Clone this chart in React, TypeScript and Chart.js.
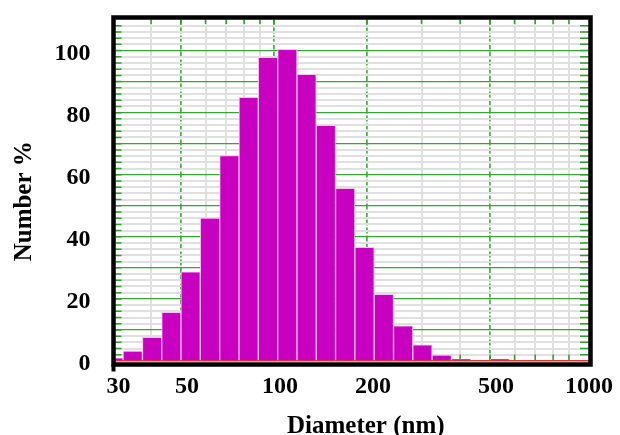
import { useEffect, useRef } from 'react';
import { Chart, registerables } from 'chart.js';

Chart.register(...registerables);

// ---- data ----
const binDiameters = [30.2, 34.9, 40.3, 46.5, 53.7, 62.0, 71.7, 82.7, 95.6, 110.4, 127.4, 147.1, 169.9, 196.2, 226.6, 261.7, 302.2, 348.9, 402.9, 465.2, 537.3];
const numberPercent = [1.0, 3.2, 7.6, 15.7, 28.7, 46.0, 66.2, 84.9, 97.8, 100.4, 92.3, 75.9, 55.6, 36.6, 21.5, 11.3, 5.2, 1.9, 0.6, 0, 0.6];
const xTickValues = [30, 40, 50, 60, 70, 80, 90, 100, 200, 300, 400, 500, 600, 700, 800, 900, 1000];
const xLabelValues = [30, 50, 100, 200, 500, 1000];
const xMajorGrid = [50, 100, 200, 500];
const yLabelValues = [0, 20, 40, 60, 80, 100];
const X_MIN = 30;
const X_MAX = 1045;
const Y_MIN = 0;
const Y_MAX = 110;
const Y_STEP = 2;
const Y_MAJOR = 10;
const X_TITLE = 'Diameter (nm)';
const Y_TITLE = 'Number %';

const FONT_FAMILY = '"Liberation Serif", "Times New Roman", serif';
const BAR_COLOR = '#c800c0';
const BAR_EDGE = '#f2c4ef';
const GREEN = '#37a437';
const GREEN_DASH = '#4db34d';
const GRAY = '#e0e0e0';
const RED = '#d23a3a';

const innerTicksPlugin = {
  id: 'innerTicks',
  beforeDatasetsDraw(chart: any) {
    const { ctx, chartArea: a, scales } = chart;
    const x = scales.x;
    const y = scales.y;
    ctx.save();
    ctx.strokeStyle = '#2e9e2e';
    ctx.lineWidth = 1.5;
    ctx.beginPath();
    y.ticks.forEach((t: any) => {
      if (t.value <= Y_MIN || t.value >= Y_MAX) return;
      const py = y.getPixelForValue(t.value);
      ctx.moveTo(a.left, py);
      ctx.lineTo(a.left + 9, py);
      ctx.moveTo(a.right - 9, py);
      ctx.lineTo(a.right, py);
    });
    x.ticks.forEach((t: any) => {
      if (t.value <= X_MIN || t.value >= 1000) return;
      const px = x.getPixelForValue(t.value);
      ctx.moveTo(px, a.top);
      ctx.lineTo(px, a.top + 4.5);
      ctx.moveTo(px, a.bottom - 6.5);
      ctx.lineTo(px, a.bottom - 1);
    });
    ctx.stroke();
    ctx.restore();
  },
};

const framePlugin = {
  id: 'frameAndTitles',
  afterDraw(chart: any) {
    const { ctx, chartArea: a } = chart;
    ctx.save();
    ctx.strokeStyle = '#000';
    ctx.lineWidth = 4.5;
    const l = a.left + 1;
    const t = a.top - 2;
    const r = a.right + 1.5;
    const b = a.bottom + 3.5;
    ctx.strokeRect(l, t, r - l, b - t);
    ctx.beginPath();
    ctx.lineWidth = 4;
    ctx.moveTo(l, b);
    ctx.lineTo(l, b + 7);
    ctx.stroke();

    ctx.fillStyle = '#000';
    ctx.font = `bold 25px ${FONT_FAMILY}`;
    ctx.textAlign = 'center';
    ctx.textBaseline = 'alphabetic';
    ctx.fillText(X_TITLE, (a.left + a.right) / 2 + 15, 433);
    ctx.translate(31, (a.top + a.bottom) / 2 + 11);
    ctx.rotate(-Math.PI / 2);
    ctx.fillText(Y_TITLE, 0, 0);
    ctx.restore();
  },
};

export default function App() {
  const canvasRef = useRef<HTMLCanvasElement | null>(null);

  useEffect(() => {
    if (!canvasRef.current) return;
    const tickFont = { family: FONT_FAMILY, size: 24, weight: 'bold' as const };
    const chart = new Chart(canvasRef.current, {
      type: 'bar',
      data: {
        datasets: [
          {
            data: binDiameters.map((d, i) => ({ x: d, y: numberPercent[i] })),
            backgroundColor: BAR_COLOR,
            borderColor: BAR_EDGE,
            borderWidth: 1,
            borderSkipped: 'start',
            barThickness: 'flex',
            categoryPercentage: 1,
            barPercentage: 1,
          } as any,
        ],
      },
      options: {
        animation: false,
        responsive: true,
        maintainAspectRatio: false,
        layout: { padding: { top: 19.5, right: 31, left: 0, bottom: 0 } },
        plugins: { legend: { display: false }, tooltip: { enabled: false } },
        scales: {
          x: {
            type: 'logarithmic',
            min: X_MIN,
            max: X_MAX,
            offset: false,
            afterBuildTicks: (s: any) => {
              s.ticks = xTickValues.map((v) => ({ value: v }));
            },
            afterFit: (s: any) => {
              s.height = 74;
              s.paddingLeft = 0;
              s.paddingRight = 0;
            },
            ticks: {
              autoSkip: false,
              maxRotation: 0,
              minRotation: 0,
              padding: 11,
              labelOffset: 6,
              color: '#000',
              font: tickFont,
              callback: (v: any) => (xLabelValues.includes(Number(v)) ? String(v) : ''),
            },
            grid: {
              offset: false,
              drawTicks: false,
              color: (c: any) => {
                const v = c.tick?.value;
                if (v === X_MIN || v === 1000) return 'rgba(0,0,0,0)';
                return xMajorGrid.includes(v) ? GREEN_DASH : GRAY;
              },
              lineWidth: (c: any) => (xMajorGrid.includes(c.tick?.value) ? 1.8 : 2),
            },
            border: {
              display: false,
              dash: (c: any) => (xMajorGrid.includes(c.tick?.value) ? [6, 2] : []),
            },
          } as any,
          y: {
            min: Y_MIN,
            max: Y_MAX,
            afterFit: (s: any) => {
              s.width = 112.5;
              s.paddingTop = 0;
              s.paddingBottom = 0;
            },
            ticks: {
              stepSize: Y_STEP,
              autoSkip: false,
              padding: 22,
              labelOffset: 3,
              color: '#000',
              font: tickFont,
              callback: (v: any) => (yLabelValues.includes(Number(v)) ? String(v) : ''),
            },
            grid: {
              drawTicks: false,
              color: (c: any) => {
                const v = c.tick?.value;
                if (v === Y_MIN) return RED;
                if (v === Y_MAX) return 'rgba(0,0,0,0)';
                return v % Y_MAJOR === 0 ? GREEN : GRAY;
              },
              lineWidth: (c: any) => {
                const v = c.tick?.value;
                if (v === Y_MIN) return 1.5;
                return v % Y_MAJOR === 0 ? 1.3 : 2;
              },
            },
            border: { display: false },
          } as any,
        },
      },
      plugins: [innerTicksPlugin, framePlugin],
    });
    return () => chart.destroy();
  }, []);

  return (
    <div style={{ position: 'fixed', left: 0, top: 0, width: 620, height: 435, background: '#fff' }}>
      <canvas ref={canvasRef} />
    </div>
  );
}
